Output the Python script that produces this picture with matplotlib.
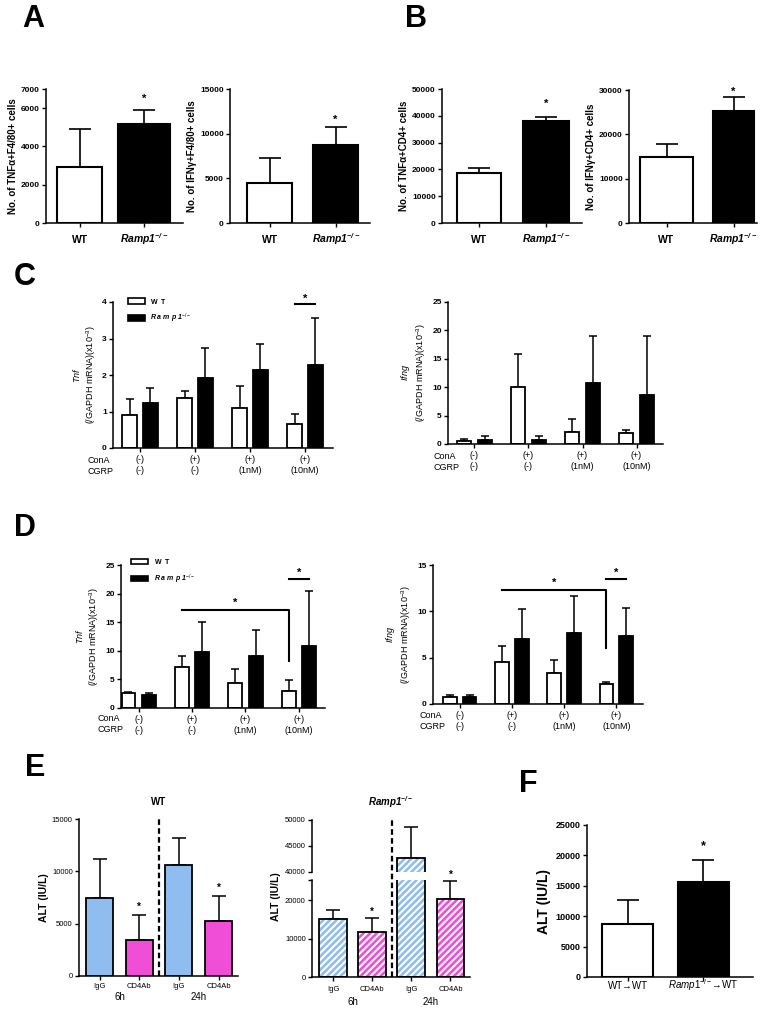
import numpy as np
import matplotlib
matplotlib.use("Agg")
import matplotlib.pyplot as plt
from matplotlib.patches import Patch

plt.rcParams['font.family'] = ['Liberation Sans', 'DejaVu Sans']
plt.rcParams['mathtext.fontset'] = 'custom'
plt.rcParams['mathtext.rm'] = 'Liberation Sans'
plt.rcParams['mathtext.it'] = 'Liberation Sans:italic'
plt.rcParams['mathtext.bf'] = 'Liberation Sans:bold'
plt.rcParams['mathtext.bfit'] = 'Liberation Sans:bold:italic'
plt.rcParams['hatch.linewidth'] = 1.5

W, H = 775, 1016

# ---------------- data ----------------
# A: F4/80+ cells
a_tnf = [2900, 5150]
a_tnf_err = [2000, 750]
a_ifng = [4450, 8700]
a_ifng_err = [2850, 2080]
# B: CD4+ cells
b_tnf = [18500, 38200]
b_tnf_err = [2000, 1200]
b_ifng = [15000, 25300]
b_ifng_err = [2800, 3150]

# C / D: mRNA, 4 conditions
cond_labels = ['(-)\n(-)', '(+)\n(-)', '(+)\n(1nM)', '(+)\n(10nM)']
c_tnf_wt = [0.90, 1.38, 1.10, 0.67]
c_tnf_wt_err = [0.43, 0.17, 0.60, 0.25]
c_tnf_ko = [1.23, 1.91, 2.15, 2.28]
c_tnf_ko_err = [0.42, 0.83, 0.69, 1.27]
c_ifng_wt = [0.60, 10.0, 2.2, 1.9]
c_ifng_wt_err = [0.25, 5.85, 2.25, 0.50]
c_ifng_ko = [0.78, 0.78, 10.7, 8.7]
c_ifng_ko_err = [0.60, 0.55, 8.3, 10.4]

d_tnf_wt = [2.7, 7.1, 4.4, 2.9]
d_tnf_wt_err = [0.12, 1.95, 2.4, 2.05]
d_tnf_ko = [2.2, 9.8, 9.1, 10.8]
d_tnf_ko_err = [0.40, 5.3, 4.5, 9.6]
d_ifng_wt = [0.80, 4.55, 3.3, 2.15]
d_ifng_wt_err = [0.20, 1.73, 1.47, 0.20]
d_ifng_ko = [0.72, 7.05, 7.62, 7.3]
d_ifng_ko_err = [0.25, 3.15, 4.0, 3.1]

# E: ALT after IgG / CD4Ab
e_labels = ['IgG', 'CD4Ab', 'IgG', 'CD4Ab']
e_times = ['6h', '24h']
e_wt = [7500, 3400, 10650, 5300]
e_wt_err = [3650, 2450, 2550, 2300]
e_ko = [15000, 11600, 42700, 20300]
e_ko_err = [2400, 3800, 5900, 4650]

# F: bone marrow chimera ALT
f_labels = ['WT→WT', r'$\mathit{Ramp1}^{-/-}$→WT']
f_alt = [8700, 15600]
f_alt_err = [4000, 3600]

ko_bold = r'$\mathbfit{Ramp1}^{\mathbfit{-/-}}$'
blue = '#8fbdf0'
pink = '#f04ed6'

fig = plt.figure(figsize=(W / 100, H / 100), dpi=100)


def px_axes(x0, y0, x1, y1):
    return fig.add_axes([x0 / W, 1 - y1 / H, (x1 - x0) / W, (y1 - y0) / H])


def ftext(x, y, s, **kw):
    fig.text(x / W, 1 - y / H, s, **kw)


def style(ax, fs=6, bold=True):
    for s in ['top', 'right']:
        ax.spines[s].set_visible(False)
    for s in ['left', 'bottom']:
        ax.spines[s].set_linewidth(1.1)
    ax.tick_params(direction='out', length=3, width=1, labelsize=fs, pad=1.5)
    if bold:
        for t in ax.get_yticklabels():
            t.set_fontweight('bold')


def xlabels(ax, xs, labels, dy_px, **kw):
    # tick labels placed on a common baseline below the x axis
    ax.set_xticks(xs)
    ax.set_xticklabels([''] * len(xs))
    for x, s in zip(xs, labels):
        ax.annotate(s, xy=(x, 0), xycoords=('data', 'axes fraction'),
                    xytext=(0, -dy_px / 1.389), textcoords='offset points',
                    ha='center', va='baseline', **kw)


def star(ax, x, y, px_up, fs=8):
    # place asterisk glyph centre px_up pixels above (x, y)
    off = px_up / 1.389 - 0.58 * fs
    ax.annotate('*', xy=(x, y), xytext=(0, off), textcoords='offset points',
                ha='center', va='baseline', fontsize=fs, fontweight='bold')


def two_bars(ax, vals, errs, xlim, widths, capsize, ylim, yticks, ylabel, star_px):
    x = np.arange(2)
    ax.bar(x, vals, widths, color=['white', 'black'], edgecolor='black', linewidth=1.5, zorder=2)
    ax.errorbar(x, vals, yerr=[[0, 0], errs], fmt='none', ecolor='black',
                elinewidth=1.2, capsize=capsize, capthick=1.2, zorder=1)
    ax.set_xlim(*xlim)
    ax.set_ylim(*ylim)
    ax.set_yticks(yticks)
    style(ax)
    xlabels(ax, x, ['WT', ko_bold], 20, fontsize=7.5, fontweight='bold')
    ax.set_ylabel(ylabel, fontsize=7, fontweight='bold', labelpad=2)
    star(ax, 1, vals[1] + errs[1], star_px)


# ---------------- A ----------------
ax = px_axes(46, 89, 183, 223)
two_bars(ax, a_tnf, a_tnf_err, (-0.52, 1.6), [0.7, 0.8], 8, (0, 7000),
         [0, 2000, 4000, 6000, 7000], 'No. of TNFα+F4/80+ cells', 15)
ax = px_axes(230, 89, 370, 223)
two_bars(ax, a_ifng, a_ifng_err, (-0.6, 1.52), [0.68, 0.68], 8, (0, 15000),
         [0, 5000, 10000, 15000], 'No. of IFNγ+F4/80+ cells', 10)

# ---------------- B ----------------
ax = px_axes(442, 89, 582, 223)
two_bars(ax, b_tnf, b_tnf_err, (-0.55, 1.54), [0.66, 0.68], 8, (0, 50000),
         np.arange(0, 50001, 10000), 'No. of TNFα+CD4+ cells', 17)
ax = px_axes(629, 90, 757, 223)
two_bars(ax, b_ifng, b_ifng_err, (-0.56, 1.35), [0.79, 0.6], 8, (0, 30000),
         [0, 10000, 20000, 30000], 'No. of IFNγ+CD4+ cells', 8)


# ---------------- C / D ----------------
def group_bars(ax, wt, wt_err, ko, ko_err, xlim, ylim, yticks, gene, conA_px):
    x = np.arange(4)
    w, off = 0.26, 0.19
    ax.bar(x - off, wt, w, color='white', edgecolor='black', linewidth=1.3, zorder=2)
    ax.bar(x + off, ko, w, color='black', edgecolor='black', linewidth=1.3, zorder=2)
    ax.errorbar(x - off, wt, yerr=[np.zeros(4), wt_err], fmt='none', ecolor='black',
                elinewidth=1.1, capsize=3, capthick=1.1, zorder=1)
    ax.errorbar(x + off, ko, yerr=[np.zeros(4), ko_err], fmt='none', ecolor='black',
                elinewidth=1.1, capsize=3, capthick=1.1, zorder=1)
    ax.set_xlim(*xlim)
    ax.set_ylim(*ylim)
    ax.set_yticks(yticks)
    ax.set_xticks(x)
    ax.set_xticklabels(cond_labels, fontsize=6.5, linespacing=1.25)
    style(ax)
    ax.tick_params(axis='x', labelsize=6.5, pad=2)
    ax.set_ylabel(r'$\mathit{' + gene + r'}$' + '\n(/GAPDH mRNA)(x10$^{-3}$)',
                  fontsize=6.5, labelpad=3)
    ftext(conA_px[0], conA_px[1], 'ConA\nCGRP', fontsize=6.5, ha='left', va='top',
          linespacing=1.25)
    return x, off


def legend(ax, anchor):
    h = [Patch(facecolor='white', edgecolor='black', linewidth=1.2),
         Patch(facecolor='black', edgecolor='black', linewidth=1.2)]
    ax.legend(h, [r'$\mathbf{W\ \ T}$', r'$\mathbfit{R\ a\ m\ p\ 1}^{-/-}$'],
              loc='upper left', bbox_to_anchor=anchor, frameon=False,
              fontsize=5, handlelength=2.4, handleheight=0.9, labelspacing=0.9,
              handletextpad=0.8)


ax = px_axes(113, 302, 333, 448)
x, off = group_bars(ax, c_tnf_wt, c_tnf_wt_err, c_tnf_ko, c_tnf_ko_err,
                    (-0.49, 3.51), (0, 4), [0, 1, 2, 3, 4], 'Tnf', (88, 456))
legend(ax, (0.04, 1.08))
ax.plot([3 - off, 3 + off], [3.94, 3.94], color='black', lw=1.5, clip_on=False)
ax.text(3, 4.1, '*', ha='center', va='center', fontsize=8, fontweight='bold')

ax = px_axes(448, 302, 663, 444)
group_bars(ax, c_ifng_wt, c_ifng_wt_err, c_ifng_ko, c_ifng_ko_err,
           (-0.49, 3.49), (0, 25), np.arange(0, 26, 5), 'Ifng', (433, 452))

ax = px_axes(121, 565, 325, 708)
x, off = group_bars(ax, d_tnf_wt, d_tnf_wt_err, d_tnf_ko, d_tnf_ko_err,
                    (-0.33, 3.49), (0, 25), np.arange(0, 26, 5), 'Tnf', (97, 714))
legend(ax, (0.02, 1.1))
ax.plot([1 - off, 3 - off, 3 - off], [17.2, 17.2, 8.3], color='black', lw=1.5)
ax.text(2 - off, 18.4, '*', ha='center', va='center', fontsize=8, fontweight='bold')
ax.plot([3 - off, 3 + off], [22.5, 22.5], color='black', lw=1.5)
ax.text(3, 23.6, '*', ha='center', va='center', fontsize=8, fontweight='bold')

ax = px_axes(433, 565, 643, 704)
x, off = group_bars(ax, d_ifng_wt, d_ifng_wt_err, d_ifng_ko, d_ifng_ko_err,
                    (-0.51, 3.51), (0, 15), [0, 5, 10, 15], 'Ifng', (419, 711))
ax.plot([1 - off, 3 - off, 3 - off], [12.25, 12.25, 6.03], color='black', lw=1.5)
ax.text(2 - off, 13.05, '*', ha='center', va='center', fontsize=8, fontweight='bold')
ax.plot([3 - off, 3 + off], [13.48, 13.48], color='black', lw=1.5)
ax.text(3, 14.2, '*', ha='center', va='center', fontsize=8, fontweight='bold')

# ---------------- E ----------------
e_cols = [blue, pink, blue, pink]
ex = np.arange(4)


def e_xaxis(ax, dy1, dy2):
    xlabels(ax, ex, e_labels, dy1, fontsize=5.5)
    for i, t in enumerate(e_times):
        ax.annotate(t, xy=(0.5 + 2 * i, 0), xycoords=('data', 'axes fraction'),
                    xytext=(0, -dy2 / 1.389), textcoords='offset points',
                    ha='center', va='baseline', fontsize=7)


ax = px_axes(79, 819, 238, 976)
ax.bar(ex, e_wt, 0.68, color=e_cols, edgecolor='black', linewidth=1.3, zorder=2)
ax.errorbar(ex, e_wt, yerr=[np.zeros(4), e_wt_err], fmt='none', ecolor='black',
            elinewidth=1.1, capsize=5, capthick=1.1, zorder=1)
ax.axvline(1.5, 0, 1.01, color='black', ls=(0, (2.5, 1.5)), lw=1.6, clip_on=False)
ax.set_xlim(-0.52, 3.49)
ax.set_ylim(0, 15000)
ax.set_yticks([0, 5000, 10000, 15000])
style(ax, fs=5.5, bold=False)
e_xaxis(ax, 12, 24)
ax.set_ylabel('ALT (IU/L)', fontsize=7.5, fontweight='bold', labelpad=2)
ax.set_title('WT', fontsize=7, fontweight='bold', pad=10)
for i in [1, 3]:
    star(ax, i, e_wt[i] + e_wt_err[i], 11, fs=7)

# broken axis for Ramp1-/-
ax_lo = px_axes(312, 880, 470, 977)
ax_hi = px_axes(312, 820, 470, 872)
ax_hi.patch.set_visible(False)
for a in (ax_lo, ax_hi):
    a.bar(ex, e_ko, 0.71, color=e_cols, edgecolor='white', linewidth=0,
          hatch='/////', zorder=2)
    a.bar(ex, e_ko, 0.71, fill=False, edgecolor='black', linewidth=1.3, zorder=3)
    a.errorbar(ex, e_ko, yerr=[np.zeros(4), e_ko_err], fmt='none', ecolor='black',
               elinewidth=1.1, capsize=5, capthick=1.1, zorder=1)
    a.set_xlim(-0.54, 3.5)
    style(a, fs=5.5, bold=False)
ax_lo.set_ylim(0, 25200)
ax_lo.set_yticks([0, 10000, 20000, 25200])
ax_lo.set_yticklabels(['0', '10000', '20000', ''])
ax_hi.set_ylim(40000, 50000)
ax_hi.set_yticks([40000, 45000, 50000])
ax_hi.spines['bottom'].set_visible(False)
ax_hi.set_xticks([])
e_xaxis(ax_lo, 14, 28)
ax_lo.axvline(1.5, 0, 1.63, color='black', ls=(0, (2.5, 1.5)), lw=1.6, clip_on=False, zorder=5)
ax_hi.set_title(ko_bold, fontsize=7, pad=10)
ftext(276, 897, 'ALT (IU/L)', fontsize=7.5, fontweight='bold', rotation=90,
      ha='center', va='center')
star(ax_lo, 1, e_ko[1] + e_ko_err[1], 9, fs=7)
star(ax_lo, 3, e_ko[3] + e_ko_err[3], 9, fs=7)

# ---------------- F ----------------
ax = px_axes(587, 825, 753, 977)
fx = np.arange(2)
ax.bar(fx, f_alt, 0.68, color=['white', 'black'], edgecolor='black', linewidth=1.5, zorder=2)
ax.errorbar(fx, f_alt, yerr=[[0, 0], f_alt_err], fmt='none', ecolor='black',
            elinewidth=1.2, capsize=8, capthick=1.2, zorder=1)
ax.set_xlim(-0.54, 1.66)
ax.set_ylim(0, 25000)
ax.set_yticks(np.arange(0, 25001, 5000))
style(ax, fs=6.5)
xlabels(ax, fx, f_labels, 12, fontsize=7)
ax.set_ylabel('ALT (IU/L)', fontsize=10, fontweight='bold', labelpad=3)
star(ax, 1, f_alt[1] + f_alt_err[1], 18, fs=9)

# ---------------- panel letters ----------------
for lab, px, py in [('A', 33, 19), ('B', 416, 19), ('C', 25, 277), ('D', 25, 528),
                    ('E', 35, 768), ('F', 528, 784)]:
    ftext(px, py, lab, fontsize=22, fontweight='bold', ha='center', va='center')

fig.savefig('out.png', dpi=100)
